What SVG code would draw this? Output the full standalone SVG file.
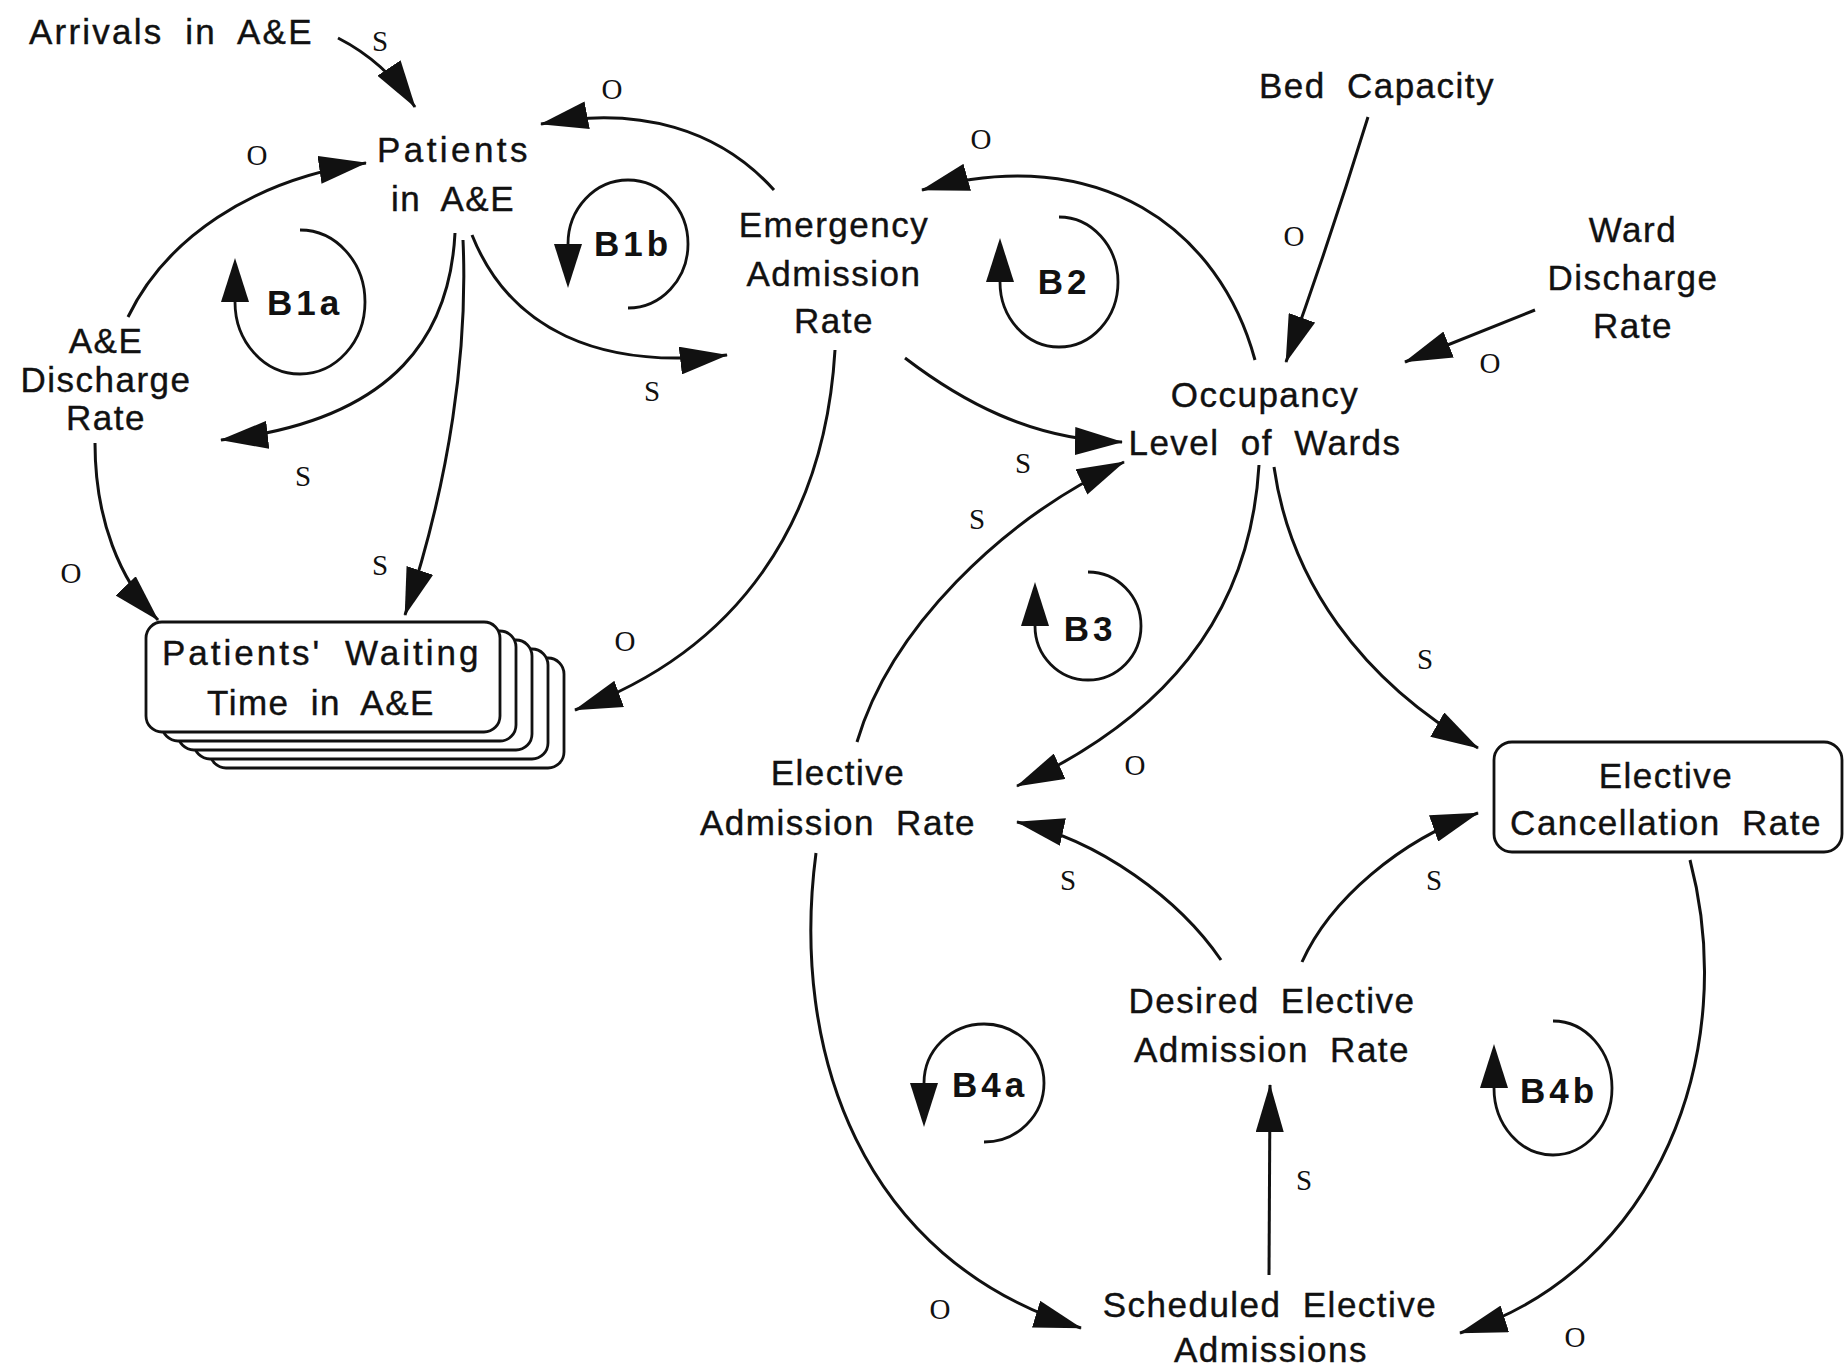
<svg xmlns="http://www.w3.org/2000/svg" width="1845" height="1370" viewBox="0 0 1845 1370">
<style>
.t{font-family:"Liberation Sans",Arial,sans-serif;font-size:35px;letter-spacing:1.5px;word-spacing:10px;fill:#111;stroke:#111;stroke-width:0.4;text-anchor:middle}
.tl{text-anchor:start}
.loop{font-family:"Liberation Sans",Arial,sans-serif;font-size:35px;font-weight:bold;letter-spacing:4px;fill:#111;text-anchor:middle}
.lbl{font-family:"Liberation Serif","Times New Roman",serif;font-size:29px;fill:#111;text-anchor:middle}
.c{fill:none;stroke:#111;stroke-width:3;marker-end:url(#ah)}
.la{fill:none;stroke:#111;stroke-width:2.8;marker-end:url(#lh)}
.box{fill:#fff;stroke:#111;stroke-width:2.8}
</style>
<defs>
<marker id="ah" markerUnits="userSpaceOnUse" markerWidth="48" markerHeight="28" viewBox="0 0 48 28" refX="47" refY="14" orient="auto"><path d="M0,0 L48,14 L0,28 z" fill="#111"/></marker>
<marker id="lh" markerUnits="userSpaceOnUse" markerWidth="44" markerHeight="28" viewBox="0 0 44 28" refX="0" refY="14" orient="auto"><path d="M0,0 L44,14 L0,28 z" fill="#111"/></marker>
</defs>
<rect width="1845" height="1370" fill="#fff"/>

<g id="connectors">
<path class="c" d="M338,38 Q385,62 415,107"/>
<path class="c" d="M774,190 C720,130 640,105 541,124"/>
<path class="c" d="M128,317 C165,240 250,180 366,163"/>
<path class="c" d="M455,233 C450,330 400,420 221,440"/>
<path class="c" d="M463,240 C468,350 450,480 405,615"/>
<path class="c" d="M472,235 C510,330 600,370 727,355"/>
<path class="c" d="M835,350 C825,520 740,650 575,710"/>
<path class="c" d="M1255,360 C1220,230 1100,140 922,190"/>
<path class="c" d="M905,358 C960,400 1030,440 1122,442"/>
<path class="c" d="M857,742 C890,630 1000,520 1124,462"/>
<path class="c" d="M1368,117 Q1330,240 1286,362"/>
<path class="c" d="M1535,310 L1405,362"/>
<path class="c" d="M1259,465 C1250,620 1160,720 1017,786"/>
<path class="c" d="M1274,467 C1290,580 1360,680 1478,748"/>
<path class="c" d="M1221,960 C1180,900 1100,840 1017,822"/>
<path class="c" d="M1302,962 C1330,900 1400,840 1478,813"/>
<path class="c" d="M1269,1275 L1270,1085"/>
<path class="c" d="M816,853 C790,1050 860,1260 1081,1328"/>
<path class="c" d="M1690,860 C1740,1050 1660,1270 1460,1333"/>
<path class="c" d="M95,443 C95,520 120,580 158,620"/>
</g>

<g id="link-labels">
<text class="lbl" x="380" y="51">S</text>
<text class="lbl" x="612" y="99">O</text>
<text class="lbl" x="257" y="165">O</text>
<text class="lbl" x="303" y="486">S</text>
<text class="lbl" x="380" y="575">S</text>
<text class="lbl" x="652" y="401">S</text>
<text class="lbl" x="625" y="651">O</text>
<text class="lbl" x="981" y="149">O</text>
<text class="lbl" x="1023" y="473">S</text>
<text class="lbl" x="977" y="529">S</text>
<text class="lbl" x="1294" y="246">O</text>
<text class="lbl" x="1490" y="373">O</text>
<text class="lbl" x="1135" y="775">O</text>
<text class="lbl" x="1425" y="669">S</text>
<text class="lbl" x="1068" y="890">S</text>
<text class="lbl" x="1434" y="890">S</text>
<text class="lbl" x="1304" y="1190">S</text>
<text class="lbl" x="940" y="1319">O</text>
<text class="lbl" x="1575" y="1347">O</text>
<text class="lbl" x="71" y="583">O</text>
</g>

<g id="loops">
<g id="loop-B1a"><path class="la" d="M300,230 A65,72 0 1 1 235,302"/><text class="loop" x="305" y="315">B1a</text></g>
<g id="loop-B1b"><path class="la" d="M628,308 A60,64 0 1 0 568,244"/><text class="loop" x="633" y="256">B1b</text></g>
<g id="loop-B2"><path class="la" d="M1059,217 A59,65 0 1 1 1000,282"/><text class="loop" x="1064" y="294">B2</text></g>
<g id="loop-B3"><path class="la" d="M1088,572 A53,54 0 1 1 1035,626"/><text class="loop" x="1090" y="641">B3</text></g>
<g id="loop-B4a"><path class="la" d="M984,1142 A60,59 0 1 0 924,1083"/><text class="loop" x="990" y="1097">B4a</text></g>
<g id="loop-B4b"><path class="la" d="M1553,1021 A59,67 0 1 1 1494,1088"/><text class="loop" x="1559" y="1103">B4b</text></g>
</g>

<g id="node-arrivals"><text class="t tl" x="29" y="44" textLength="284" lengthAdjust="spacing">Arrivals in A&amp;E</text></g>
<g id="node-patients"><text class="t" x="453" y="162" textLength="152" lengthAdjust="spacing">Patients</text><text class="t" x="453" y="211">in A&amp;E</text></g>
<g id="node-emergency"><text class="t" x="834" y="237">Emergency</text><text class="t" x="834" y="286">Admission</text><text class="t" x="834" y="333">Rate</text></g>
<g id="node-aedischarge"><text class="t" x="106" y="353">A&amp;E</text><text class="t" x="106" y="392">Discharge</text><text class="t" x="106" y="430">Rate</text></g>
<g id="node-bed"><text class="t" x="1377" y="98">Bed Capacity</text></g>
<g id="node-ward"><text class="t" x="1633" y="242">Ward</text><text class="t" x="1633" y="290">Discharge</text><text class="t" x="1633" y="338">Rate</text></g>
<g id="node-occupancy"><text class="t" x="1265" y="407">Occupancy</text><text class="t" x="1265" y="455">Level of Wards</text></g>
<g id="node-waiting">
<rect class="box" x="210" y="658" width="354" height="110" rx="16"/>
<rect class="box" x="194" y="649" width="354" height="110" rx="16"/>
<rect class="box" x="178" y="640" width="354" height="110" rx="16"/>
<rect class="box" x="162" y="631" width="354" height="110" rx="16"/>
<rect class="box" x="146" y="622" width="354" height="110" rx="16"/>
<text class="t" x="321" y="665" textLength="318" lengthAdjust="spacing">Patients' Waiting</text><text class="t" x="321" y="715">Time in A&amp;E</text>
</g>
<g id="node-elective-adm"><text class="t" x="838" y="785">Elective</text><text class="t" x="838" y="835">Admission Rate</text></g>
<g id="node-cancel"><rect class="box" x="1494" y="742" width="348" height="110" rx="18"/><text class="t" x="1666" y="788">Elective</text><text class="t" x="1666" y="835">Cancellation Rate</text></g>
<g id="node-desired"><text class="t" x="1272" y="1013">Desired Elective</text><text class="t" x="1272" y="1062">Admission Rate</text></g>
<g id="node-scheduled"><text class="t" x="1270" y="1317">Scheduled Elective</text><text class="t" x="1271" y="1362">Admissions</text></g>
</svg>
